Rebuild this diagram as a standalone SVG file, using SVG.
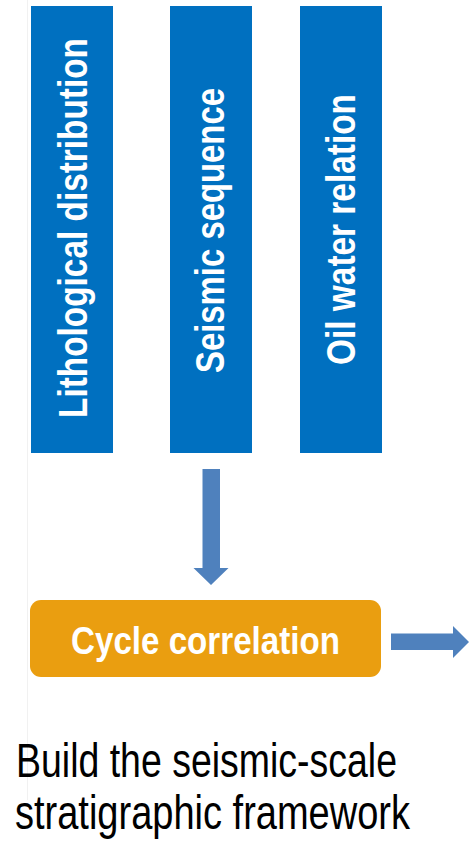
<svg xmlns="http://www.w3.org/2000/svg" width="475" height="849" viewBox="0 0 475 849">
  <style>
    .box { fill: #0070C0; }
    .vt { font-family: "Liberation Sans", Arial, sans-serif; font-weight: bold; font-size: 40px; fill: #FFFFFF; }
    .ct { font-family: "Liberation Sans", Arial, sans-serif; font-weight: bold; font-size: 38px; fill: #FFFFFF; }
    .bt { font-family: "Liberation Sans", Arial, sans-serif; font-size: 48px; fill: #000000; }
    .arrow { fill: #4F81BD; }
  </style>
  <rect width="475" height="849" fill="#FFFFFF"/>
  <line x1="27.5" y1="0" x2="27.5" y2="800" stroke="#F1F1F1" stroke-width="1"/>
  <g id="lithological">
    <rect class="box" x="31" y="6" width="82" height="447"/>
    <text class="vt" transform="translate(87,418) rotate(-90)" x="0" y="0" textLength="380" lengthAdjust="spacingAndGlyphs">Lithological distribution</text>
  </g>
  <g id="seismic">
    <rect class="box" x="170" y="6" width="82" height="447"/>
    <text class="vt" transform="translate(224,373) rotate(-90)" x="0" y="0" textLength="285" lengthAdjust="spacingAndGlyphs">Seismic sequence</text>
  </g>
  <g id="oilwater">
    <rect class="box" x="300" y="6" width="82" height="447"/>
    <text class="vt" transform="translate(355,365) rotate(-90)" x="0" y="0" textLength="271" lengthAdjust="spacingAndGlyphs">Oil water relation</text>
  </g>
  <g id="cycle">
    <rect x="30" y="600" width="351" height="77" rx="11" ry="11" fill="#EA9E10"/>
    <text class="ct" x="71" y="654" textLength="269" lengthAdjust="spacingAndGlyphs">Cycle correlation</text>
  </g>
  <g id="framework">
    <text class="bt" x="16" y="777" textLength="381" lengthAdjust="spacingAndGlyphs">Build the seismic-scale</text>
    <text class="bt" x="15" y="829" textLength="395" lengthAdjust="spacingAndGlyphs">stratigraphic framework</text>
  </g>
  <g id="connectors">
    <polygon class="arrow" points="202.5,469 220,469 220,568 228.5,568 211,585 193.5,568 202.5,568"/>
    <polygon class="arrow" points="391,633.5 453,633.5 453,626 469,642 453,658 453,650 391,650"/>
  </g>
</svg>
